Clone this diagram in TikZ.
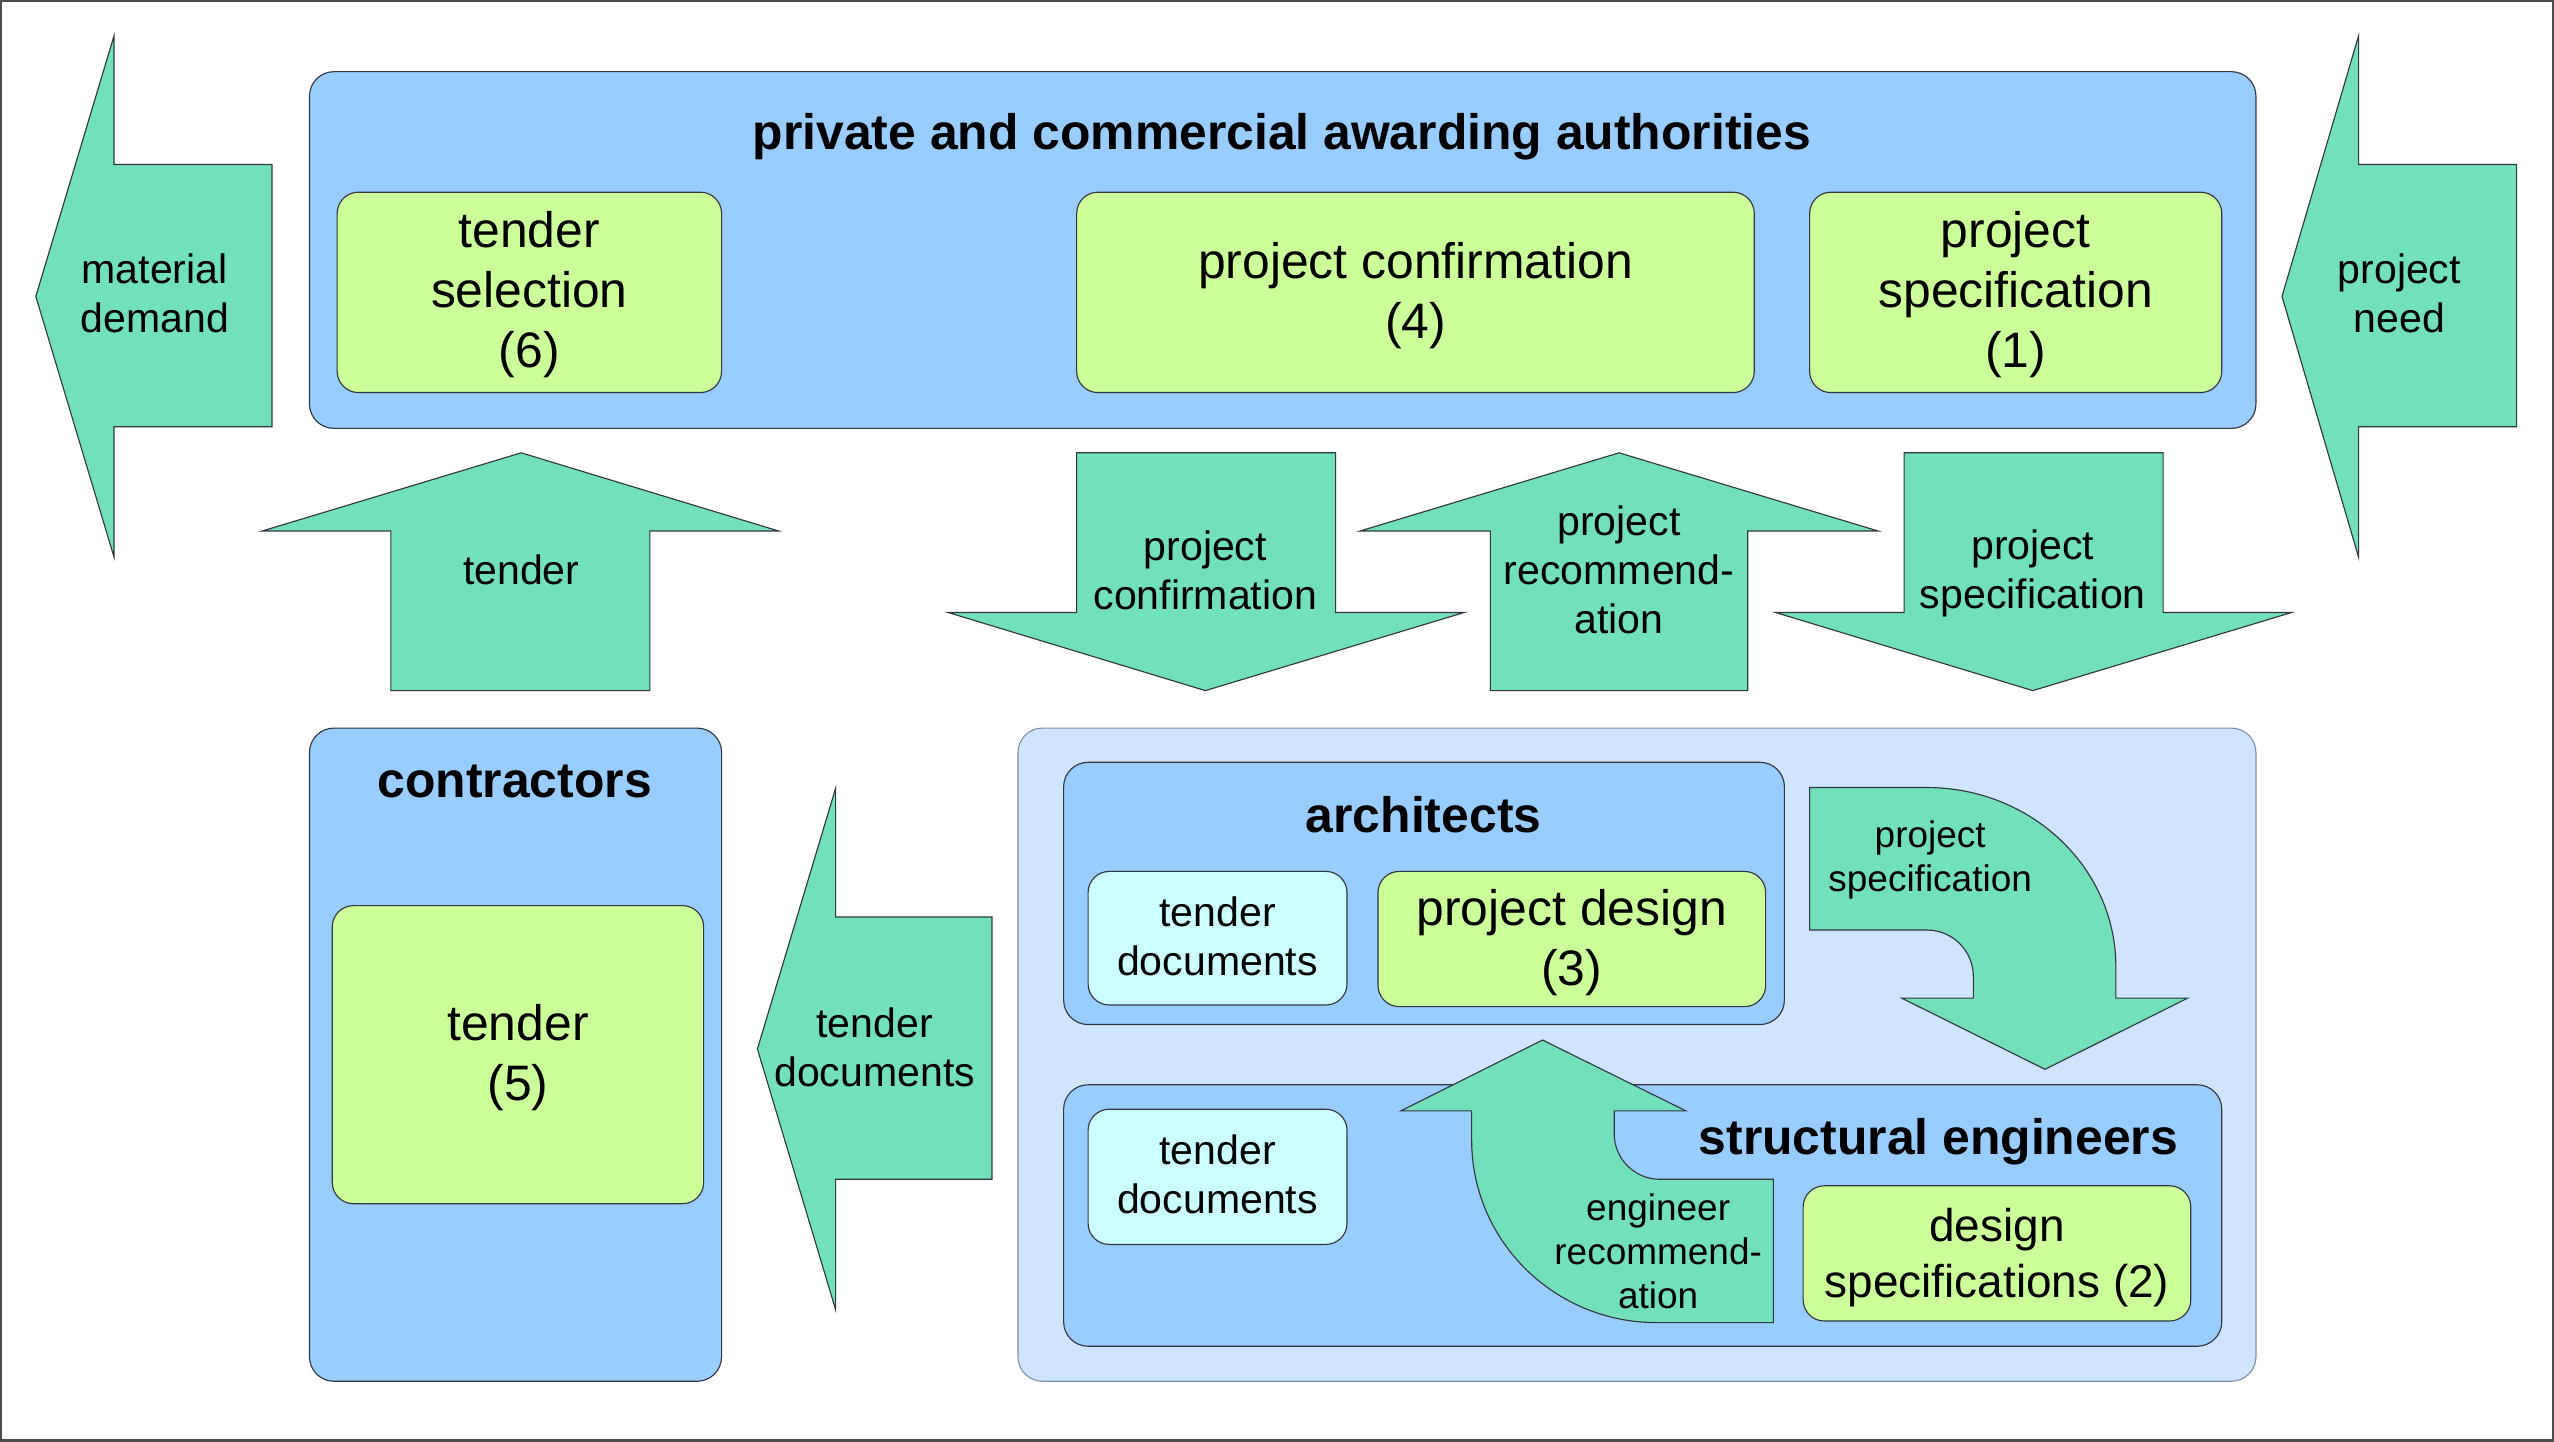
\documentclass[tikz,border=0pt]{standalone}
\usepackage{fontspec}
\setmainfont{Liberation Sans}
\definecolor{boxblue}{RGB}{153,204,255}
\definecolor{panelblue}{RGB}{207,229,255}
\definecolor{boxgreen}{RGB}{204,255,153}
\definecolor{boxcyan}{RGB}{204,255,255}
\definecolor{arrgreen}{RGB}{115,224,188}
\definecolor{edge}{RGB}{50,55,65}
\definecolor{paneledge}{RGB}{130,145,165}
\newcommand{\myBig}{\fontsize{30.6}{37}\selectfont}
\newcommand{\myMid}{\fontsize{28.2}{34}\selectfont}
\newcommand{\mySmall}{\fontsize{25.2}{30}\selectfont}
\newcommand{\myTiny}{\fontsize{22.7}{27}\selectfont}
\tikzset{
  bluebox/.style={draw=edge, line width=0.7pt, fill=boxblue, rounded corners=15pt, inner sep=0pt},
  panelbox/.style={draw=paneledge, line width=0.7pt, fill=panelblue, rounded corners=15pt, inner sep=0pt},
  greenbox/.style={draw=edge, line width=0.7pt, fill=boxgreen, rounded corners=13pt, inner sep=0pt},
  cyanbox/.style={draw=edge, line width=0.7pt, fill=boxcyan, rounded corners=13pt, inner sep=0pt},
  arrshape/.style={draw=edge, line width=0.7pt, fill=arrgreen, line join=miter},
  bigtxt/.style={font=\myBig, align=center, inner sep=0pt},
  midtxt/.style={font=\myMid, align=center, inner sep=0pt},
  smalltxt/.style={font=\mySmall, align=center, inner sep=0pt},
  tinytxt/.style={font=\myTiny, align=center, inner sep=0pt},
  titletxt/.style={font=\myBig\bfseries, inner sep=0pt},
}
\begin{document}
\begin{tikzpicture}[x=1pt,y=-1pt]
\useasboundingbox (0,0) rectangle (1568,885);
\fill[white] (0,0) rectangle (1568,885);
\draw[line width=1.5pt, draw=black!70] (0.75,0.75) rectangle (1567.25,884.25);

% ---- top: awarding authorities
\node[bluebox, minimum width=1195pt, minimum height=219pt] (auth) at (787.5,153.5) {};
\node[titletxt] (authT) at (787,84) {private and commercial awarding authorities};
\node[greenbox, minimum width=236pt, minimum height=123pt] (sel) at (325,179.5) {};
\node[bigtxt] (selT) at (325,181) {tender\\selection\\(6)};
\node[greenbox, minimum width=416pt, minimum height=123pt] (conf) at (869,179.5) {};
\node[bigtxt] (confT) at (869,181.5) {project confirmation\\(4)};
\node[greenbox, minimum width=253pt, minimum height=123pt] (spec) at (1237.5,179.5) {};
\node[bigtxt] (specT) at (1237.5,181) {project\\specification\\(1)};

% ---- side arrows
\draw[arrshape] (22,182) -- (70,22) -- (70,101) -- (167,101) -- (167,262) -- (70,262) -- (70,342) -- cycle;
\node[smalltxt] (matT) at (95,180) {material\\demand};
\draw[arrshape] (1401,182) -- (1448,22) -- (1448,101) -- (1545,101) -- (1545,262) -- (1448,262) -- (1448,342) -- cycle;
\node[smalltxt] (needT) at (1473,180) {project\\need};

% ---- middle arrows
\draw[arrshape] (320,278) -- (478,326) -- (399,326) -- (399,424) -- (240,424) -- (240,326) -- (161,326) -- cycle;
\node[smalltxt] (tenT) at (320,350) {tender};
\draw[arrshape] (661,278) -- (820,278) -- (820,376) -- (899,376) -- (740,424) -- (582,376) -- (661,376) -- cycle;
\node[smalltxt] (pcT) at (740,350) {project\\confirmation};
\draw[arrshape] (994,278) -- (1153,326) -- (1073,326) -- (1073,424) -- (915,424) -- (915,326) -- (835,326) -- cycle;
\node[smalltxt] (prT) at (994,350) {project\\recommend-\\ation};
\draw[arrshape] (1169,278) -- (1328,278) -- (1328,376) -- (1407,376) -- (1248,424) -- (1090,376) -- (1169,376) -- cycle;
\node[smalltxt] (psT) at (1248,352) {project\\specification};

% ---- contractors
\node[bluebox, minimum width=253pt, minimum height=401pt] (contr) at (316.5,647.5) {};
\node[titletxt] (contrT) at (316,480) {contractors};
\node[greenbox, minimum width=228pt, minimum height=183pt] (ten5) at (318,647.5) {};
\node[bigtxt] (ten5T) at (318,649.5) {tender\\(5)};

% ---- tender documents arrow
\draw[arrshape] (465,644) -- (513,484) -- (513,563) -- (609,563) -- (609,724) -- (513,724) -- (513,804) -- cycle;
\node[smalltxt] (tdT) at (537,643) {tender\\documents};

% ---- panel
\node[panelbox, minimum width=760pt, minimum height=401pt] (panel) at (1005,647.5) {};
\node[bluebox, minimum width=442.5pt, minimum height=161pt] (arch) at (874.25,548.5) {};
\node[titletxt] (archT) at (874,500) {architects};
\node[cyanbox, minimum width=159pt, minimum height=82pt] (adoc) at (747.5,576) {};
\node[smalltxt] (adocT) at (747.5,575) {tender\\documents};
\node[greenbox, minimum width=238pt, minimum height=83pt] (pdes) at (965,576.5) {};
\node[bigtxt] (pdesT) at (965,578.5) {project design\\(3)};

\node[bluebox, minimum width=711pt, minimum height=160.5pt] (struct) at (1008.5,746.25) {};
\node[titletxt] (structT) at (1190,701) {structural engineers};
\node[cyanbox, minimum width=159pt, minimum height=83pt] (sdoc) at (747.5,722.5) {};
\node[smalltxt] (sdocT) at (747.5,721) {tender\\documents};
\node[greenbox, minimum width=238pt, minimum height=83pt] (dspec) at (1226,769.5) {};
\node[midtxt] (dspecT) at (1226,772) {design\\specifications (2)};

% ---- curved arrow: project specification
\draw[arrshape] (1111,483.5) -- (1183,483.5)
  arc[start angle=-90, end angle=0, x radius=116, y radius=110]
  -- (1299,612.8) -- (1343,612.8) -- (1255.5,656.5) -- (1167.5,612.8) -- (1211.5,612.8) -- (1211.5,599.5)
  arc[start angle=0, end angle=-90, radius=28.5]
  -- (1111,571) -- cycle;
\node[tinytxt] (cpsT) at (1185,528) {project\\specification};

% ---- curved arrow: engineer recommendation
\draw[arrshape] (947,638.5) -- (1035,682) -- (991,682) -- (991,696)
  arc[start angle=180, end angle=90, radius=28]
  -- (1088.7,724) -- (1088.7,812) -- (1017,812)
  arc[start angle=90, end angle=180, x radius=113.5, y radius=112]
  -- (903.5,682) -- (860,682) -- cycle;
\node[tinytxt] (erT) at (1018,768) {engineer\\recommend-\\ation};
\end{tikzpicture}
\end{document}
